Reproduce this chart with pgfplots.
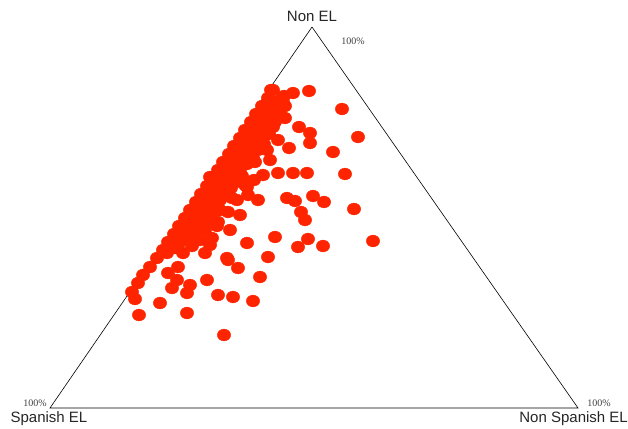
\documentclass[border=0pt]{standalone}
\usepackage{fontspec}
\setmainfont{Liberation Sans}
\newfontfamily\serifsmall{Liberation Serif}
\usepackage{pgfplots}
\pgfplotsset{compat=1.18}
\definecolor{ptred}{RGB}{255,36,0}

\begin{document}
\begin{tikzpicture}
\begin{axis}[
    width=628pt, height=428pt, scale only axis,
    xmin=0, xmax=628, ymin=0, ymax=428,
    y dir=reverse,
    hide axis, clip=false,
]
% triangle (pixel positions of the three corners)
\addplot[black, line width=0.6pt] coordinates {(312,27) (50,408) (578,408) (312,27)};

% schools
\addplot[only marks, mark=*, mark size=5.9pt,
    mark options={xscale=1.13, fill=ptred, draw=ptred}] coordinates {
    % scattered points
    (271,90) (293,93) (309,91) (285,106) (342,109) (285,118) (299,127)
    (310,133) (310,143) (358,137) (289,148) (333,152) (273,127) (278,140)
    (278,173) (293,173) (307,173) (345,174) (255,162) (267,150) (263,175)
    (247,187) (258,200) (287,198) (295,201) (313,196) (324,202) (301,212)
    (305,220) (354,209) (275,237) (247,243) (298,247) (308,239) (323,246)
    (373,241) (268,257) (228,260) (238,268) (260,277) (253,301)
    (167,253) (183,253) (205,253) (150,267) (143,275) (138,283) (132,292)
    (135,299) (168,273) (178,267) (177,280) (172,288) (190,285) (187,293)
    (207,280) (160,303) (139,315) (187,313) (218,295) (233,297) (224,335)
    (210,177) (245,185) (248,195) (227,258) (262,140) (270,160) (240,172)
    (232,198) (220,210) (218,222) (205,230) (200,240) (210,245) (230,230)
    (240,215)
    % dense band along the left side
    (273,90) (284,96) (268,98) (280,100) (262,106) (274,106)
    (256,114) (268,114) (280,114) (251,122) (263,122) (275,122)
    (245,130) (257,130) (269,134) (240,138) (252,138) (264,144)
    (234,146) (246,146) (258,150) (229,154) (241,154) (253,158)
    (223,162) (235,162) (247,164) (218,170) (230,170) (242,176) (254,180)
    (212,178) (224,178) (236,182) (207,186) (219,186) (231,188)
    (201,194) (213,194) (225,194) (237,200) (196,202) (208,202) (220,200)
    (190,210) (202,210) (214,212) (228,212) (185,218) (197,218) (209,220)
    (179,226) (191,226) (203,224) (217,226) (174,234) (186,234) (198,232)
    (168,242) (180,242) (192,246) (212,238) (163,250) (175,248) (157,258)
    (271,102) (283,102) (266,110) (278,110) (260,118) (272,118)
    (255,126) (267,126) (249,134) (261,134) (244,142) (256,142)
    (238,150) (250,150) (233,158) (245,158) (227,166) (239,166)
    (222,174) (234,174) (216,182) (228,182) (211,190) (223,190)
    (205,198) (217,198) (200,206) (212,206) (194,214) (206,214)
    (189,222) (201,222) (183,230) (195,230) (178,238) (190,238)
}; 

% labels
\node[font=\fontsize{15}{18}\selectfont, text=black!85] at (axis cs:312,16) {Non EL};
\node[font=\fontsize{15}{18}\selectfont, text=black!85] at (axis cs:49,419) {Spanish EL};
\node[font=\fontsize{15}{18}\selectfont, text=black!85, anchor=east, inner sep=0pt] at (axis cs:628,419) {Non Spanish EL};
\node[font=\serifsmall\fontsize{10}{12}\selectfont, text=black!75] at (axis cs:353,41) {100\%};
\node[font=\serifsmall\fontsize{10}{12}\selectfont, text=black!75] at (axis cs:35,403) {100\%};
\node[font=\serifsmall\fontsize{10}{12}\selectfont, text=black!75] at (axis cs:599,403) {100\%};
\end{axis}
\pgfresetboundingbox
\useasboundingbox (0,0) rectangle (628pt,428pt);
\end{tikzpicture}
\end{document}
